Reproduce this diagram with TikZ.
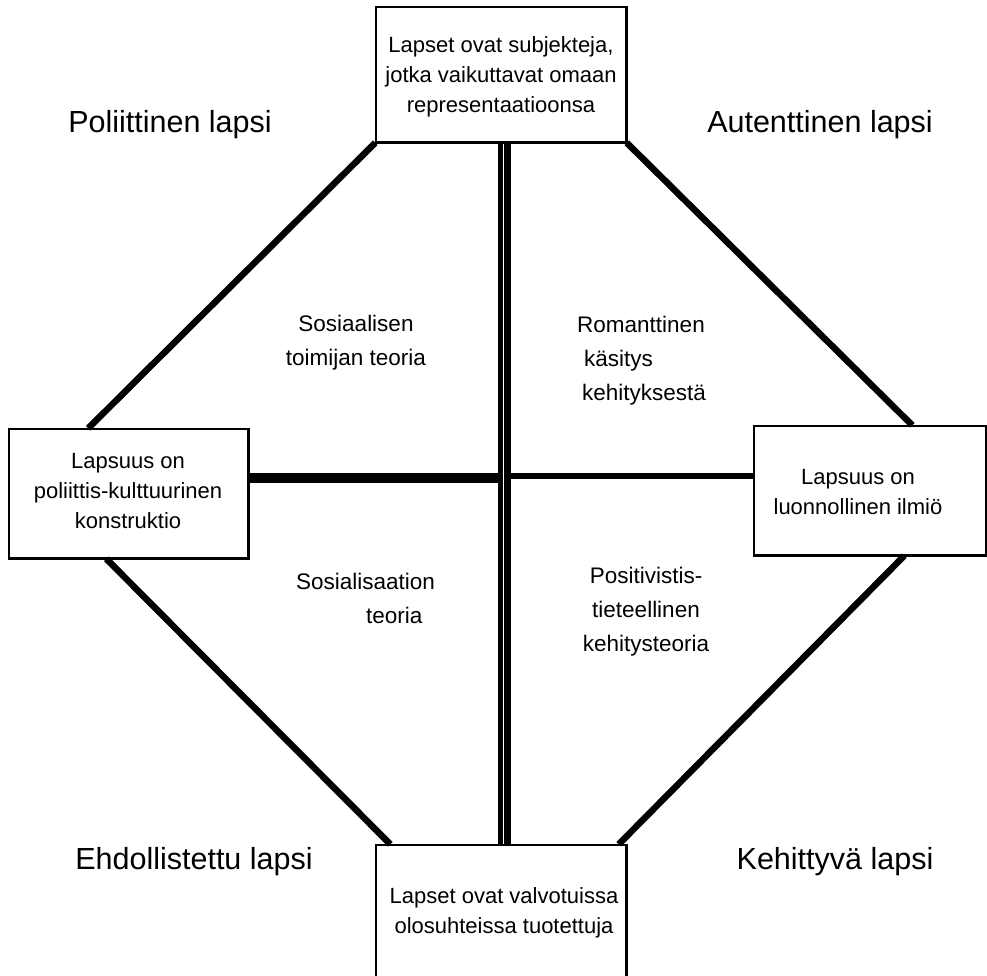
\documentclass[tikz,border=0pt]{standalone}
\usepackage{fontspec}
\setmainfont{Liberation Sans}
\begin{document}
\begin{tikzpicture}[x=1pt,y=-1pt,
  box/.style={draw, line width=1.5pt, fill=white, inner sep=0pt},
  boxtext/.style={font=\fontsize{22}{30}\selectfont, align=center, inner sep=0pt},
  quad/.style={font=\fontsize{30.5}{36}\selectfont, inner sep=0pt},
  inner/.style={font=\fontsize{22.5}{34}\selectfont, inner sep=0pt},
  diag/.style={line width=6.5pt}
]
\fill[white] (0,0) rectangle (987,975);
\useasboundingbox (0,0) rectangle (987,975);

% boxes
\node[box, minimum width=250pt, minimum height=135pt] (tbox) at (501,74.5) {};
\node[box, minimum width=250pt, minimum height=135pt] (bbox) at (501,912.5) {};
\node[box, minimum width=239pt, minimum height=129pt] (lbox) at (128.5,493.5) {};
\node[box, minimum width=232pt, minimum height=129pt] (rbox) at (870,490.5) {};

% connectors
\coordinate (cL) at (503,478.3);
\coordinate (cR) at (504,475.8);
\draw[diag] (tbox.south west) -- ([xshift=80pt]lbox.north west);
\draw[diag] (tbox.south east) -- ([xshift=159pt]rbox.north west);
\draw[diag] ([xshift=98pt]lbox.south west) -- ([xshift=15pt]bbox.north west);
\draw[diag] ([xshift=151pt]rbox.south west) -- ([xshift=-8pt]bbox.north east);
\draw[line width=5.6pt] ([xshift=-0.5pt]tbox.south) -- ([xshift=-0.5pt]bbox.north);
\draw[line width=6.7pt] ([xshift=6.65pt]tbox.south) -- ([xshift=6.65pt]bbox.north);
\draw[line width=10pt] (lbox.east |- cL) -- (cL);
\draw[line width=6.5pt] (cR) -- (rbox.west |- cR);

% box outlines on top
\draw[line width=1.5pt] (tbox.north west) rectangle (tbox.south east);
\draw[line width=1.5pt] (bbox.north west) rectangle (bbox.south east);
\draw[line width=1.5pt] (lbox.north west) rectangle (lbox.south east);
\draw[line width=1.5pt] (rbox.north west) rectangle (rbox.south east);

% box texts
\node[boxtext] (ttext) at (501,77) {Lapset ovat subjekteja,\\jotka vaikuttavat omaan\\representaatioonsa};
\node[boxtext] (btext) at (504,913) {Lapset ovat valvotuissa\\olosuhteissa tuotettuja};
\node[boxtext] (ltext) at (128,491) {Lapsuus on\\poliittis-kulttuurinen\\konstruktio};
\node[boxtext] (rtext) at (858,492) {Lapsuus on\\luonnollinen ilmiö};

% quadrant labels
\node[quad] (q1) at (170,125) {Poliittinen lapsi};
\node[quad] (q2) at (820,125) {Autenttinen lapsi};
\node[quad] (q3) at (194,862) {Ehdollistettu lapsi};
\node[quad] (q4) at (835,862) {Kehittyvä lapsi};

% inner texts
\node[inner, align=center] (i1) at (356,343) {Sosiaalisen\\toimijan teoria};
\node[inner, align=left, anchor=west] (i2) at (577,361) {Romanttinen\\\hspace*{7pt}käsitys\\\hspace*{5pt}kehityksestä};
\node[inner, align=left, anchor=west] (i3) at (296,598) {Sosialisaation\\\hspace*{70pt}teoria};
\node[inner, align=center] (i4) at (646,612) {Positivistis-\\tieteellinen\\kehitysteoria};
\end{tikzpicture}
\end{document}
